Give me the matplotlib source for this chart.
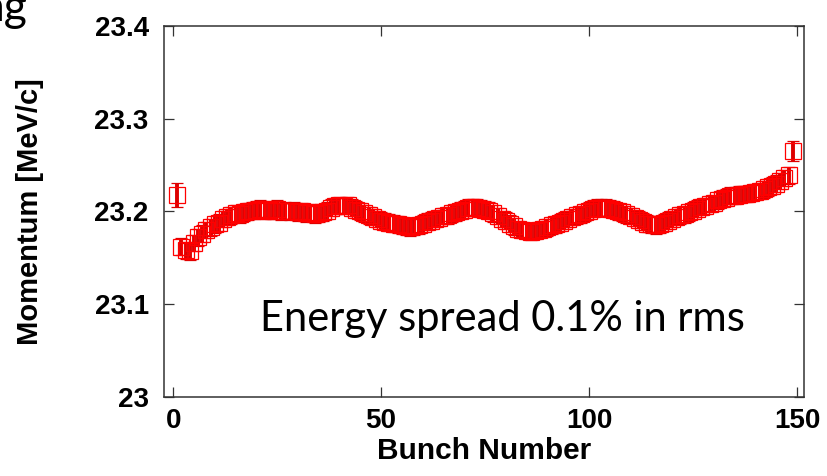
import numpy as np
import matplotlib.pyplot as plt

# bunch-by-bunch momentum
bunch = np.arange(1, 150)
momentum = np.array([
    23.218, 23.162, 23.158, 23.157, 23.166, 23.172, 23.176, 23.180, 23.183, 23.186,
    23.188, 23.192, 23.194, 23.196, 23.198, 23.197, 23.199, 23.200, 23.201, 23.202,
    23.203, 23.201, 23.202, 23.201, 23.203, 23.200, 23.201, 23.200, 23.201, 23.199,
    23.200, 23.198, 23.199, 23.197, 23.198, 23.199, 23.201, 23.204, 23.206, 23.207,
    23.206, 23.207, 23.204, 23.202, 23.200, 23.198, 23.196, 23.194, 23.192, 23.190,
    23.189, 23.188, 23.187, 23.186, 23.185, 23.184, 23.183, 23.184, 23.185, 23.187,
    23.189, 23.190, 23.192, 23.193, 23.195, 23.196, 23.198, 23.199, 23.201, 23.202,
    23.204, 23.205, 23.204, 23.203, 23.202, 23.201, 23.198, 23.195, 23.192, 23.190,
    23.187, 23.184, 23.181, 23.180, 23.179, 23.178, 23.179, 23.180, 23.181, 23.183,
    23.185, 23.186, 23.188, 23.190, 23.192, 23.194, 23.196, 23.197, 23.199, 23.201,
    23.203, 23.204, 23.204, 23.204, 23.203, 23.202, 23.200, 23.199, 23.197, 23.195,
    23.193, 23.191, 23.189, 23.187, 23.186, 23.185, 23.186, 23.188, 23.190, 23.192,
    23.194, 23.196, 23.197, 23.199, 23.201, 23.203, 23.205, 23.206, 23.208, 23.209,
    23.212, 23.214, 23.215, 23.217, 23.217, 23.218, 23.219, 23.219, 23.220, 23.221,
    23.222, 23.224, 23.226, 23.228, 23.230, 23.233, 23.236, 23.239, 23.265,
])
errors = np.full(len(bunch), 0.009)
errors[0] = 0.013
errors[-1] = 0.011

x_ticks = [0, 50, 100, 150]
y_ticks = [23.0, 23.1, 23.2, 23.3, 23.4]
y_ticklabels = ['23', '23.1', '23.2', '23.3', '23.4']

fig = plt.figure(figsize=(8.27, 4.76), dpi=100)
ax = fig.add_axes([0.1983, 0.166, 0.7739, 0.7794])

ax.errorbar(bunch, momentum, yerr=errors, fmt='s', mfc='none', mec='red',
            mew=0.9, ms=11, ecolor='#dd0000', elinewidth=2.8, capsize=4,
            capthick=2.8)

ax.set_xlim(-2.2, 151.7)
ax.set_ylim(23.0, 23.4)
ax.set_xticks(x_ticks)
ax.set_yticks(y_ticks)
ax.set_yticklabels(y_ticklabels)

for s in ax.spines.values():
    s.set_color('#333333')
    s.set_linewidth(1.1)

ax.tick_params(direction='in', length=7, width=0.9, color='#333333',
               top=True, right=True, labelsize=20)
ax.tick_params(axis='y', pad=11)
ax.tick_params(axis='x', pad=8)
for lab in ax.get_xticklabels() + ax.get_yticklabels():
    lab.set_fontweight('bold')
    lab.set_family('Liberation Sans')

ax.set_xlabel('Bunch Number', fontsize=21.5, fontweight='bold',
              family='Liberation Sans', labelpad=2)
ax.set_ylabel('Momentum [MeV/c]', fontsize=21, fontweight='bold',
              family='Liberation Sans', labelpad=36)

ax.text(0.908, 0.178, 'Energy spread 0.1% in rms', transform=ax.transAxes,
        ha='right', va='baseline', fontsize=30, family='Lato')

fig.text(0.033, 0.955, 'ng', ha='right', va='baseline', fontsize=32,
         family='Lato')

plt.savefig('out.png', dpi=100)
